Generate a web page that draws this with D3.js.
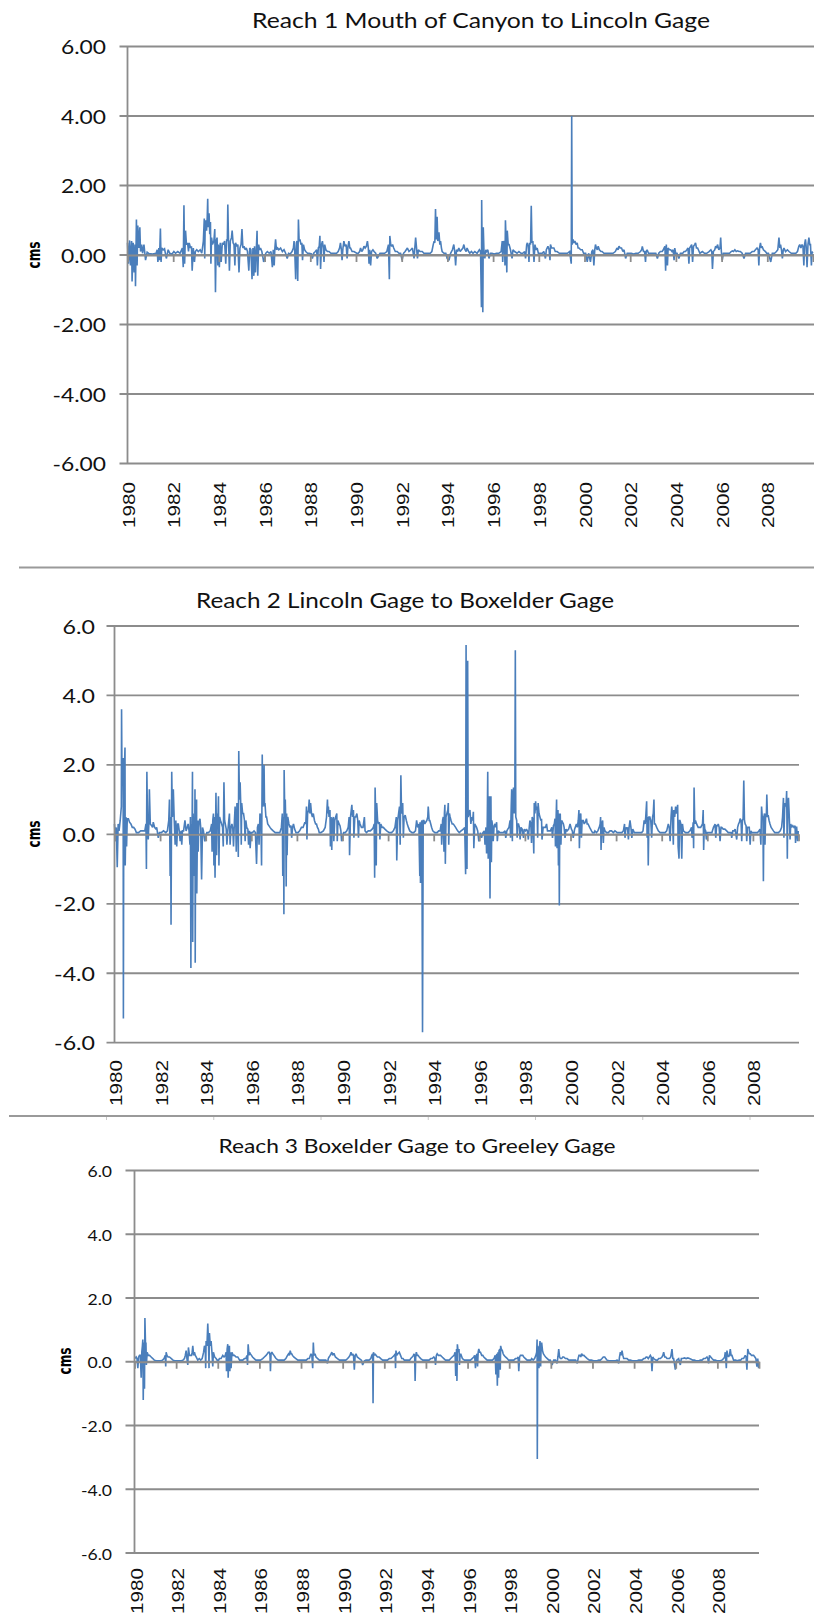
<!DOCTYPE html>
<html><head><meta charset="utf-8">
<script src="https://cdn.jsdelivr.net/npm/d3@7"></script>
<style>body{margin:0;background:#fff}svg{display:block}</style>
</head><body>
<svg id="c" width="814" height="1614"></svg>
<script>
// ---------------- DATA ----------------
const titles = ["Reach 1 Mouth of Canyon to Lincoln Gage", "Reach 2 Lincoln Gage to Boxelder Gage", "Reach 3 Boxelder Gage to Greeley Gage"];
const yAxisLabel = "cms";
const yTickValues = [-6, -4, -2, 0, 2, 4, 6];
const yTickDecimals = [2, 1, 1];
const xLabelYears = [1980,1982,1984,1986,1988,1990,1992,1994,1996,1998,2000,2002,2004,2006,2008];
const xAxisTickYears = [1980,1982,1984,1986,1988,1990,1992,1994,1996,1998,2000,2002,2004,2006,2008,2010];

// [decimal year, cms]
const reach1 = [
[1980.00,.35],[1980.04,-.25],[1980.09,.42],[1980.13,-.3],[1980.18,.4],[1980.2,-.76],[1980.25,.35],[1980.29,-.5],[1980.33,.3],[1980.35,-.9],[1980.39,1.02],[1980.42,-.3],[1980.45,.85],[1980.5,.2],[1980.54,.8],[1980.57,.1],[1980.62,.3],[1980.66,.05],[1980.72,.3],[1980.79,-.15],[1980.86,.08],[1980.94,.04],
[1981.1,.03],[1981.25,.05],[1981.3,.15],[1981.33,-.2],[1981.37,.2],[1981.4,-.15],[1981.44,.76],[1981.47,-.2],[1981.5,.2],[1981.56,.15],[1981.62,.18],[1981.7,-.1],[1981.78,.15],[1981.85,.05],[1981.95,.03],
[1982.03,.1],[1982.1,.05],[1982.2,.1],[1982.3,.05],[1982.4,.2],[1982.44,-.35],[1982.47,1.43],[1982.5,-.25],[1982.54,.7],[1982.58,.3],[1982.63,.35],[1982.67,.1],[1982.7,.35],[1982.76,.2],[1982.8,.25],[1982.83,-.45],[1982.88,.2],[1982.93,-.2],[1982.97,.1],
[1983.03,.15],[1983.1,.1],[1983.18,.15],[1983.25,.05],[1983.32,.4],[1983.36,1.05],[1983.38,-.1],[1983.4,.9],[1983.43,1.0],[1983.46,.7],[1983.49,1.1],[1983.51,1.62],[1983.53,.8],[1983.55,1.0],[1983.57,1.2],[1983.6,.6],[1983.63,.95],[1983.65,-.25],[1983.68,.5],[1983.72,.3],[1983.78,.4],[1983.82,.75],[1983.85,-1.07],[1983.88,.4],[1983.92,.5],[1983.95,-.3],[1983.98,.3],
[1984.02,-.35],[1984.06,.35],[1984.1,-.2],[1984.15,.35],[1984.2,.3],[1984.25,.4],[1984.3,-.25],[1984.34,.45],[1984.37,.4],[1984.39,1.45],[1984.42,.45],[1984.46,-.45],[1984.5,.4],[1984.55,.5],[1984.58,.7],[1984.62,.35],[1984.66,.3],[1984.7,-.3],[1984.73,.35],[1984.78,.25],[1984.83,.3],[1984.88,-.5],[1984.92,.2],[1984.97,.3],
[1985.01,.75],[1985.05,.2],[1985.1,.25],[1985.15,.15],[1985.2,.2],[1985.25,.1],[1985.31,-.45],[1985.35,.2],[1985.4,.15],[1985.45,-.7],[1985.49,.2],[1985.53,-.6],[1985.56,.25],[1985.6,-.5],[1985.64,.2],[1985.67,.7],[1985.7,-.6],[1985.74,.3],[1985.78,.15],[1985.82,.2],[1985.88,.1],[1985.96,-.2],
[1986.05,.05],[1986.12,.1],[1986.2,.05],[1986.28,.1],[1986.34,-.35],[1986.38,.15],[1986.42,-.3],[1986.45,.2],[1986.48,.45],[1986.52,.15],[1986.57,.2],[1986.62,.15],[1986.7,.2],[1986.78,.1],[1986.85,.15],[1986.92,.05],[1986.99,-.1],
[1987.05,.05],[1987.12,.03],[1987.2,.1],[1987.26,.2],[1987.29,.4],[1987.32,.1],[1987.36,-.7],[1987.39,.35],[1987.42,.4],[1987.45,-.75],[1987.48,1.02],[1987.51,.4],[1987.55,.45],[1987.59,.3],[1987.63,.35],[1987.66,-.15],[1987.7,.3],[1987.75,.15],[1987.8,.1],[1987.88,.05],[1987.95,.05],
[1988.05,.03],[1988.09,-.1],[1988.15,.05],[1988.22,.1],[1988.28,.15],[1988.31,-.3],[1988.35,.2],[1988.39,.25],[1988.42,.55],[1988.45,-.4],[1988.49,.3],[1988.53,.4],[1988.57,.2],[1988.6,-.2],[1988.63,.3],[1988.68,.15],[1988.75,.1],[1988.82,.1],[1988.9,.05],
[1989.05,.05],[1989.15,.05],[1989.22,.1],[1989.28,.2],[1989.32,.35],[1989.36,.15],[1989.39,-.15],[1989.43,.2],[1989.47,.4],[1989.52,.25],[1989.57,.3],[1989.61,-.1],[1989.65,.25],[1989.69,.4],[1989.73,.2],[1989.76,.2],[1989.83,.1],[1989.91,.1],
[1990.03,.05],[1990.1,.05],[1990.16,.1],[1990.2,.2],[1990.25,.1],[1990.3,.15],[1990.35,.25],[1990.4,.2],[1990.45,.25],[1990.5,.4],[1990.54,.2],[1990.57,-.25],[1990.6,.15],[1990.64,-.3],[1990.68,.1],[1990.74,.15],[1990.79,.1],[1990.86,.05],[1990.93,-.1],
[1991.05,.05],[1991.15,.05],[1991.25,.05],[1991.35,.1],[1991.42,.3],[1991.46,-.7],[1991.48,.55],[1991.52,.3],[1991.56,.25],[1991.6,.3],[1991.65,.2],[1991.72,.1],[1991.8,.1],[1991.88,.05],[1991.95,.05],
[1992.02,-.15],[1992.08,.05],[1992.15,.1],[1992.25,.2],[1992.32,.1],[1992.4,.15],[1992.47,.2],[1992.54,-.1],[1992.58,.25],[1992.61,.5],[1992.65,.2],[1992.69,-.1],[1992.73,.15],[1992.8,.1],[1992.9,.1],[1992.97,.05],
[1993.05,.05],[1993.15,.05],[1993.25,.05],[1993.32,.1],[1993.38,.3],[1993.42,.4],[1993.45,.35],[1993.48,1.32],[1993.51,.45],[1993.55,1.1],[1993.58,.4],[1993.63,.65],[1993.67,.3],[1993.7,.4],[1993.74,.2],[1993.77,.1],[1993.85,.05],[1993.93,.05],[1993.99,-.1],
[1994.07,-.15],[1994.14,.05],[1994.22,.15],[1994.28,.3],[1994.32,.1],[1994.36,-.3],[1994.4,.15],[1994.45,.1],[1994.5,.2],[1994.56,.1],[1994.62,.15],[1994.68,.2],[1994.72,.3],[1994.77,.15],[1994.82,.1],[1994.86,.2],[1994.93,.1],[1994.98,.05],
[1995.05,.1],[1995.12,.05],[1995.2,.1],[1995.3,.05],[1995.4,.15],[1995.45,.1],[1995.49,-1.5],[1995.5,1.58],[1995.52,.1],[1995.55,-1.65],[1995.57,.8],[1995.6,.1],[1995.64,-.1],[1995.68,.15],[1995.72,.1],[1995.77,.15],[1995.82,-.1],[1995.88,.05],[1995.95,.05],
[1996.05,.03],[1996.15,.05],[1996.25,.05],[1996.35,.1],[1996.4,.4],[1996.42,-.2],[1996.46,.4],[1996.5,.35],[1996.52,-.3],[1996.54,1.0],[1996.57,.4],[1996.6,-.5],[1996.62,.7],[1996.66,.3],[1996.7,.3],[1996.76,.15],[1996.83,-.1],[1996.87,.15],[1996.94,.1],
[1997.05,.05],[1997.13,.1],[1997.22,.05],[1997.3,.05],[1997.38,.1],[1997.42,-.1],[1997.47,.3],[1997.5,.35],[1997.54,.25],[1997.57,-.2],[1997.6,.35],[1997.64,.3],[1997.67,1.42],[1997.7,.35],[1997.74,.4],[1997.79,-.2],[1997.83,.3],[1997.88,.15],[1997.93,.2],[1997.98,.05],
[1998.05,.05],[1998.15,.05],[1998.22,.1],[1998.29,-.1],[1998.33,.15],[1998.4,.25],[1998.45,.15],[1998.49,-.15],[1998.51,.3],[1998.56,.2],[1998.62,.2],[1998.66,.2],[1998.72,.1],[1998.8,.1],[1998.9,.05],
[1999.05,.05],[1999.15,.05],[1999.25,.05],[1999.35,.1],[1999.42,-.25],[1999.44,4.0],[1999.46,.3],[1999.5,.45],[1999.54,.35],[1999.58,.4],[1999.63,.3],[1999.68,.35],[1999.72,.2],[1999.76,.2],[1999.83,.15],[1999.9,.15],[1999.96,.05],
[2000.05,.05],[2000.12,-.2],[2000.18,.05],[2000.26,-.2],[2000.32,.1],[2000.37,.15],[2000.41,-.3],[2000.45,.15],[2000.48,.3],[2000.52,.2],[2000.56,.15],[2000.6,.25],[2000.65,.15],[2000.72,.1],[2000.77,.1],[2000.85,.05],[2000.93,.05],
[2001.05,.05],[2001.15,.05],[2001.25,.05],[2001.35,.1],[2001.42,.2],[2001.47,.15],[2001.51,.25],[2001.56,.2],[2001.62,.2],[2001.68,.1],[2001.73,.15],[2001.8,-.1],[2001.87,.05],[2001.95,.05],
[2002.05,.05],[2002.15,.03],[2002.25,.05],[2002.35,.05],[2002.45,.1],[2002.5,.15],[2002.53,.25],[2002.58,.1],[2002.63,.1],[2002.67,-.2],[2002.7,.1],[2002.74,.15],[2002.8,.05],[2002.9,.05],
[2003.05,.05],[2003.12,.05],[2003.19,-.1],[2003.25,.05],[2003.32,.1],[2003.4,.1],[2003.45,.15],[2003.48,.2],[2003.52,.25],[2003.55,-.45],[2003.58,.3],[2003.63,-.3],[2003.66,.2],[2003.72,.15],[2003.77,.15],[2003.83,.1],[2003.88,.15],[2003.92,-.15],[2003.95,.2],[2003.99,.05],
[2004.05,.05],[2004.13,-.1],[2004.2,.05],[2004.3,.05],[2004.36,.1],[2004.42,.1],[2004.48,.15],[2004.53,.2],[2004.57,-.25],[2004.6,.2],[2004.65,.25],[2004.69,.3],[2004.73,-.2],[2004.77,.25],[2004.82,.3],[2004.86,.35],[2004.9,.2],[2004.95,.2],
[2005.05,.05],[2005.16,.1],[2005.25,.05],[2005.35,.05],[2005.45,.1],[2005.53,.15],[2005.57,.1],[2005.6,-.4],[2005.64,.1],[2005.7,.15],[2005.74,.25],[2005.79,.2],[2005.82,.3],[2005.88,.15],[2005.93,.2],[2005.96,.5],[2005.99,.1],
[2006.03,-.15],[2006.08,.05],[2006.15,.05],[2006.25,.05],[2006.35,.05],[2006.42,.1],[2006.47,.12],[2006.52,.1],[2006.58,.15],[2006.64,.1],[2006.7,.12],[2006.76,.1],[2006.82,.1],[2006.9,.05],[2006.98,-.1],
[2007.05,.05],[2007.15,.05],[2007.25,.05],[2007.34,.1],[2007.42,.1],[2007.48,.15],[2007.55,.2],[2007.6,.15],[2007.63,-.3],[2007.66,.2],[2007.7,.35],[2007.74,.2],[2007.77,.25],[2007.83,.15],[2007.92,.1],[2007.97,.05],
[2008.05,.05],[2008.15,-.2],[2008.22,.05],[2008.32,.05],[2008.4,.1],[2008.46,.15],[2008.51,.5],[2008.55,.2],[2008.58,.3],[2008.62,.15],[2008.66,-.1],[2008.7,.15],[2008.73,.2],[2008.8,.1],[2008.88,.15],[2008.95,.1],
[2009.05,.05],[2009.15,.05],[2009.25,.05],[2009.32,.1],[2009.38,.25],[2009.42,.3],[2009.47,.2],[2009.52,.3],[2009.56,.25],[2009.6,-.3],[2009.63,.3],[2009.67,.45],[2009.7,.25],[2009.74,-.35],[2009.78,.3],[2009.82,.5],[2009.86,.3],[2009.89,.3],[2009.93,-.3],[2009.96,.1],[2009.99,.05]
];

const reach2 = [
[1980.0,.3],[1980.04,-.2],[1980.08,.2],[1980.12,-.95],[1980.16,.3],[1980.2,.1],[1980.25,.4],[1980.3,.8],[1980.31,3.6],[1980.33,1.5],[1980.36,2.2],[1980.38,1.0],[1980.39,-5.3],[1980.41,2.2],[1980.43,1.8],[1980.46,2.5],[1980.47,-.9],[1980.5,.5],[1980.53,-.35],[1980.56,.45],[1980.61,.45],[1980.66,.35],[1980.72,.3],[1980.78,.2],[1980.84,.2],[1980.9,.15],[1980.96,.05],
[1981.05,.05],[1981.15,.1],[1981.25,.1],[1981.33,.1],[1981.38,.3],[1981.4,-1.0],[1981.42,1.8],[1981.45,.3],[1981.48,-.15],[1981.51,.35],[1981.53,1.3],[1981.57,.3],[1981.63,.25],[1981.67,.2],[1981.7,.35],[1981.76,.2],[1981.82,.15],[1981.85,.2],[1981.92,-.1],[1981.97,.05],
[1982.05,.05],[1982.15,.1],[1982.25,.05],[1982.32,.1],[1982.38,.4],[1982.41,1.0],[1982.44,-1.2],[1982.46,.5],[1982.48,-2.6],[1982.51,1.8],[1982.54,.5],[1982.58,1.3],[1982.62,.4],[1982.66,-.3],[1982.69,.4],[1982.73,-.35],[1982.77,.3],[1982.8,.3],[1982.84,.1],[1982.88,-.2],[1982.92,.1],[1982.95,-.3],[1982.98,.1],
[1983.03,.1],[1983.09,.4],[1983.14,.1],[1983.19,.2],[1983.23,.3],[1983.27,.1],[1983.31,-.3],[1983.33,.5],[1983.35,-3.85],[1983.37,.3],[1983.39,-1.0],[1983.42,1.8],[1983.43,-3.1],[1983.45,.6],[1983.47,-1.2],[1983.49,.5],[1983.51,-1.1],[1983.53,1.3],[1983.54,-3.7],[1983.56,.7],[1983.58,-1.0],[1983.6,1.0],[1983.61,-1.7],[1983.64,.4],[1983.67,-.5],[1983.7,.35],[1983.75,.45],[1983.78,.2],[1983.82,-1.3],[1983.86,.2],[1983.9,.1],[1983.96,-.2],
[1984.05,.05],[1984.12,.05],[1984.2,.1],[1984.26,.3],[1984.28,-.5],[1984.31,.4],[1984.34,.6],[1984.36,-.9],[1984.38,.5],[1984.41,-1.25],[1984.45,1.2],[1984.48,-.6],[1984.51,.6],[1984.54,.5],[1984.56,1.1],[1984.58,-.9],[1984.61,.5],[1984.65,.4],[1984.7,.3],[1984.74,.2],[1984.77,-.35],[1984.8,1.5],[1984.83,.4],[1984.86,.3],[1984.9,.15],[1984.93,-.3],[1984.97,.1],
[1985.04,.6],[1985.07,-.3],[1985.11,.2],[1985.15,.3],[1985.19,.15],[1985.22,-.35],[1985.26,.4],[1985.29,.8],[1985.32,.3],[1985.34,-.5],[1985.37,.9],[1985.4,.7],[1985.43,-.65],[1985.45,2.4],[1985.48,1.0],[1985.51,1.5],[1985.54,.8],[1985.56,-.3],[1985.58,.9],[1985.62,.6],[1985.66,.6],[1985.7,.4],[1985.73,-.2],[1985.76,.4],[1985.8,.2],[1985.85,.15],[1985.88,-.3],[1985.92,.1],[1985.95,-.4],[1985.99,.05],
[1986.05,.05],[1986.12,.1],[1986.18,.05],[1986.23,-.85],[1986.27,.2],[1986.31,.3],[1986.34,-.3],[1986.38,.6],[1986.42,.5],[1986.45,-.9],[1986.48,2.3],[1986.5,.8],[1986.53,1.0],[1986.56,2.0],[1986.58,.8],[1986.6,.9],[1986.64,.5],[1986.67,.5],[1986.72,.3],[1986.77,.25],[1986.82,.2],[1986.88,.15],[1986.96,.1],
[1987.05,.05],[1987.15,.05],[1987.25,.05],[1987.32,.2],[1987.36,.6],[1987.38,-1.2],[1987.41,.5],[1987.43,-2.3],[1987.44,1.85],[1987.47,.5],[1987.49,1.0],[1987.51,.4],[1987.53,-1.5],[1987.55,.6],[1987.57,-.6],[1987.6,.5],[1987.65,.3],[1987.7,.2],[1987.74,.25],[1987.77,-.1],[1987.81,.2],[1987.85,.3],[1987.9,.15],[1987.96,.05],
[1988.05,.05],[1988.12,.1],[1988.2,.2],[1988.27,.2],[1988.35,.35],[1988.39,.3],[1988.42,.8],[1988.44,-.15],[1988.47,.6],[1988.51,.7],[1988.54,1.0],[1988.57,.6],[1988.6,.9],[1988.64,.6],[1988.68,.5],[1988.72,.6],[1988.77,.4],[1988.82,.3],[1988.86,.3],[1988.9,.2],[1988.94,.15],[1988.98,.05],
[1989.05,.05],[1989.16,.1],[1989.24,.2],[1989.3,.5],[1989.34,1.0],[1989.36,.6],[1989.38,.8],[1989.41,.5],[1989.45,.7],[1989.47,-.35],[1989.5,.5],[1989.53,-.45],[1989.55,.4],[1989.6,.5],[1989.62,-.2],[1989.66,.4],[1989.7,.5],[1989.75,.6],[1989.77,-.2],[1989.8,.4],[1989.85,.3],[1989.89,.25],[1989.93,.1],[1989.96,-.2],
[1990.05,.05],[1990.12,.05],[1990.19,.1],[1990.25,.2],[1990.29,.5],[1990.31,-.6],[1990.35,.5],[1990.41,.85],[1990.44,.5],[1990.48,.7],[1990.5,-.1],[1990.54,.5],[1990.58,.5],[1990.63,.6],[1990.67,.4],[1990.7,-.1],[1990.73,.4],[1990.77,.3],[1990.83,.2],[1990.9,.2],[1990.96,.5],[1990.99,.1],
[1991.05,.05],[1991.13,.1],[1991.22,.1],[1991.3,.15],[1991.35,.2],[1991.39,.3],[1991.41,-1.25],[1991.43,1.35],[1991.46,.4],[1991.48,-.9],[1991.5,.9],[1991.54,.4],[1991.58,.3],[1991.62,.35],[1991.64,-.15],[1991.68,.3],[1991.74,.2],[1991.79,.2],[1991.86,.15],[1991.94,.1],
[1992.05,.05],[1992.15,.05],[1992.23,.1],[1992.3,.2],[1992.36,.5],[1992.38,-.75],[1992.42,.4],[1992.46,.6],[1992.5,.8],[1992.53,-.3],[1992.56,1.7],[1992.59,.6],[1992.62,.7],[1992.64,.9],[1992.67,-.1],[1992.7,.5],[1992.75,.55],[1992.8,.4],[1992.84,.3],[1992.89,.2],[1992.95,.1],
[1993.05,.05],[1993.12,.05],[1993.2,.1],[1993.25,.4],[1993.3,.2],[1993.35,.3],[1993.39,-1.2],[1993.4,.35],[1993.42,-1.4],[1993.45,.3],[1993.48,.4],[1993.51,-5.7],[1993.54,.4],[1993.57,.4],[1993.61,.3],[1993.65,.35],[1993.7,.4],[1993.74,.5],[1993.76,.8],[1993.8,.4],[1993.83,.4],[1993.87,.3],[1993.91,.2],[1993.96,.1],
[1994.05,.05],[1994.15,.05],[1994.22,.1],[1994.28,.1],[1994.33,.3],[1994.35,-.3],[1994.39,.4],[1994.42,.5],[1994.45,-.5],[1994.47,.6],[1994.49,.85],[1994.51,-.85],[1994.54,.5],[1994.58,.6],[1994.62,.7],[1994.64,.9],[1994.66,-.3],[1994.69,.6],[1994.72,.5],[1994.76,.4],[1994.81,.3],[1994.86,.3],[1994.91,.25],[1994.96,.2],
[1995.05,.1],[1995.12,.05],[1995.2,.1],[1995.3,.15],[1995.36,.2],[1995.4,-1.15],[1995.42,5.45],[1995.44,.5],[1995.46,-1.0],[1995.47,.8],[1995.49,5.0],[1995.51,.5],[1995.55,.6],[1995.59,.7],[1995.63,.3],[1995.67,.5],[1995.71,.4],[1995.74,.65],[1995.76,-.4],[1995.8,.3],[1995.84,.25],[1995.88,.2],[1995.93,.1],[1995.98,-.2],
[1996.05,.05],[1996.1,-.1],[1996.16,.05],[1996.22,.1],[1996.25,-.3],[1996.29,.2],[1996.32,-.55],[1996.35,.4],[1996.37,1.8],[1996.39,-.7],[1996.42,.5],[1996.44,1.1],[1996.47,-1.85],[1996.49,.5],[1996.51,1.1],[1996.53,-.8],[1996.55,.4],[1996.57,.3],[1996.61,-.2],[1996.65,.25],[1996.69,.3],[1996.72,.2],[1996.76,.35],[1996.79,-.2],[1996.83,.1],[1996.9,.05],
[1997.05,.05],[1997.13,.1],[1997.16,-.1],[1997.21,.1],[1997.25,.15],[1997.3,.2],[1997.35,.4],[1997.37,-.1],[1997.4,.8],[1997.42,1.3],[1997.45,-.2],[1997.47,.9],[1997.5,1.35],[1997.53,.6],[1997.56,1.3],[1997.58,5.3],[1997.6,.5],[1997.64,.4],[1997.66,-.1],[1997.69,.3],[1997.72,.3],[1997.76,.2],[1997.79,-.15],[1997.83,.2],[1997.88,.15],[1997.94,-.1],[1997.97,.15],
[1998.03,.1],[1998.07,.15],[1998.11,.1],[1998.15,-.15],[1998.19,.2],[1998.22,.4],[1998.26,.3],[1998.29,-.25],[1998.32,.5],[1998.35,.4],[1998.39,-.55],[1998.41,.9],[1998.44,.6],[1998.47,.95],[1998.5,.7],[1998.53,.8],[1998.56,-.1],[1998.58,.9],[1998.62,.6],[1998.66,.5],[1998.7,.4],[1998.73,.45],[1998.75,-.15],[1998.8,.2],[1998.85,.2],[1998.9,.2],[1998.95,.3],[1998.99,.1],
[1999.06,.1],[1999.12,.1],[1999.18,.2],[1999.21,-.1],[1999.25,.25],[1999.29,.3],[1999.32,.45],[1999.34,-.35],[1999.37,.5],[1999.39,1.0],[1999.41,-.4],[1999.43,.6],[1999.45,.7],[1999.47,-.9],[1999.49,.6],[1999.51,-2.05],[1999.53,.5],[1999.55,.6],[1999.58,-.3],[1999.61,.4],[1999.65,.35],[1999.69,.3],[1999.72,.2],[1999.76,-.1],[1999.8,.15],[1999.85,.1],[1999.92,.15],[1999.98,.3],
[2000.04,.15],[2000.08,.1],[2000.12,-.1],[2000.18,.15],[2000.26,.3],[2000.3,.2],[2000.34,.4],[2000.37,.7],[2000.39,-.4],[2000.42,.5],[2000.45,.6],[2000.48,-.1],[2000.51,.4],[2000.56,.4],[2000.6,.3],[2000.65,.35],[2000.7,.45],[2000.73,.3],[2000.77,.3],[2000.84,.2],[2000.92,.1],[2000.97,.05],
[2001.04,.05],[2001.07,.1],[2001.14,.05],[2001.2,.1],[2001.26,.2],[2001.3,.3],[2001.32,.5],[2001.34,-.45],[2001.37,.3],[2001.41,.4],[2001.44,-.25],[2001.47,.2],[2001.51,.1],[2001.58,.05],[2001.66,.05],[2001.73,.1],[2001.8,.1],[2001.88,.05],[2001.95,.1],
[2002.05,.05],[2002.15,.05],[2002.25,.05],[2002.32,.1],[2002.37,.3],[2002.39,-.1],[2002.43,.2],[2002.47,.15],[2002.5,.2],[2002.54,-.15],[2002.57,.2],[2002.61,.4],[2002.65,.2],[2002.69,-.1],[2002.73,.15],[2002.8,.05],[2002.9,.05],
[2003.05,.05],[2003.12,.05],[2003.18,.1],[2003.23,.4],[2003.27,.3],[2003.3,.5],[2003.34,.95],[2003.36,-.1],[2003.39,.5],[2003.41,-.9],[2003.44,.5],[2003.48,.5],[2003.52,.4],[2003.56,-.1],[2003.6,.5],[2003.63,.6],[2003.66,1.0],[2003.68,.3],[2003.72,.3],[2003.78,.2],[2003.85,.1],[2003.93,.05],
[2004.05,.05],[2004.15,.05],[2004.22,.1],[2004.29,.3],[2004.33,.2],[2004.37,-.2],[2004.41,.5],[2004.44,.8],[2004.47,.6],[2004.51,-.3],[2004.53,.7],[2004.57,.5],[2004.61,.8],[2004.64,.6],[2004.67,.7],[2004.7,.85],[2004.72,-.35],[2004.76,-.7],[2004.78,.4],[2004.8,.4],[2004.84,.3],[2004.88,-.7],[2004.91,.3],[2004.95,.1],
[2005.05,.05],[2005.16,.05],[2005.24,.1],[2005.31,.2],[2005.33,-.1],[2005.38,.35],[2005.4,-.4],[2005.42,1.35],[2005.45,.3],[2005.48,.4],[2005.53,.3],[2005.6,.2],[2005.66,.2],[2005.71,.2],[2005.75,.25],[2005.79,.3],[2005.82,.7],[2005.84,-.45],[2005.87,.3],[2005.89,.15],[2005.93,.1],[2005.96,-.15],[2005.99,.05],
[2006.05,.05],[2006.12,.05],[2006.2,.05],[2006.27,.2],[2006.31,.25],[2006.34,.3],[2006.37,-.1],[2006.41,.25],[2006.45,.25],[2006.48,.3],[2006.52,.2],[2006.56,-.2],[2006.6,.2],[2006.63,.2],[2006.7,.15],[2006.77,.15],[2006.85,.1],[2006.92,.05],
[2007.05,.05],[2007.07,-.1],[2007.12,.1],[2007.18,.1],[2007.22,.15],[2007.29,-.15],[2007.33,.2],[2007.37,.3],[2007.41,.35],[2007.44,.45],[2007.48,.4],[2007.51,-.2],[2007.54,.4],[2007.57,.45],[2007.6,1.55],[2007.63,.4],[2007.66,.3],[2007.7,.25],[2007.73,-.2],[2007.76,.2],[2007.8,.2],[2007.84,.2],[2007.88,-.3],[2007.91,.1],[2007.96,.05],
[2008.05,.05],[2008.12,.05],[2008.2,.05],[2008.27,.1],[2008.31,.15],[2008.35,-.3],[2008.38,.8],[2008.41,.5],[2008.44,.5],[2008.46,-1.35],[2008.48,.5],[2008.51,.6],[2008.53,-.3],[2008.56,.6],[2008.59,.5],[2008.61,1.15],[2008.64,.5],[2008.67,.55],[2008.71,.4],[2008.75,.3],[2008.8,.2],[2008.85,.15],[2008.9,.1],[2008.96,.05],
[2009.05,.05],[2009.12,.05],[2009.2,.1],[2009.26,.2],[2009.3,.5],[2009.34,1.05],[2009.36,-.1],[2009.39,.7],[2009.41,.9],[2009.44,.8],[2009.46,.9],[2009.48,1.25],[2009.51,-.7],[2009.53,.8],[2009.56,1.05],[2009.59,.6],[2009.63,-.15],[2009.66,.3],[2009.7,.2],[2009.75,.25],[2009.8,.2],[2009.85,.25],[2009.87,-.25],[2009.9,.2],[2009.92,.2],[2009.96,-.2],[2009.99,.1]
];

const reach3 = [
[1980.02,.1],[1980.08,.15],[1980.12,.1],[1980.16,-.2],[1980.2,.15],[1980.24,.2],[1980.28,.2],[1980.32,-.5],[1980.35,.3],[1980.38,.5],[1980.4,.7],[1980.42,-1.2],[1980.45,.6],[1980.48,-.85],[1980.5,1.37],[1980.53,.5],[1980.55,.6],[1980.57,-.1],[1980.61,.3],[1980.66,.2],[1980.72,.2],[1980.8,.15],[1980.88,.1],[1980.95,.05],
[1981.05,.03],[1981.15,.03],[1981.25,.03],[1981.35,.05],[1981.42,.1],[1981.48,.2],[1981.5,-.15],[1981.52,.3],[1981.56,.2],[1981.61,.15],[1981.68,.15],[1981.77,.1],[1981.85,.05],[1981.93,.03],
[1982.05,.03],[1982.15,.03],[1982.25,.03],[1982.33,.05],[1982.4,.1],[1982.44,.2],[1982.48,.35],[1982.52,.1],[1982.56,-.1],[1982.59,.45],[1982.64,.2],[1982.69,.2],[1982.74,.2],[1982.77,.3],[1982.8,.5],[1982.84,.2],[1982.88,.3],[1982.92,.2],[1982.96,.15],
[1983.04,.05],[1983.11,.1],[1983.18,.05],[1983.25,.1],[1983.32,.3],[1983.36,.5],[1983.4,.4],[1983.42,-.2],[1983.44,.65],[1983.48,.5],[1983.52,1.2],[1983.55,.7],[1983.58,-.2],[1983.6,.9],[1983.64,.5],[1983.68,.65],[1983.72,.3],[1983.76,-.15],[1983.79,.3],[1983.85,.15],[1983.92,.1],[1983.97,.05],
[1984.04,.05],[1984.08,.1],[1984.16,.1],[1984.24,.2],[1984.3,.15],[1984.36,.2],[1984.4,.3],[1984.42,-.3],[1984.45,.4],[1984.48,.55],[1984.5,-.5],[1984.53,.4],[1984.56,.5],[1984.58,-.3],[1984.61,.3],[1984.64,-.2],[1984.68,.3],[1984.74,.2],[1984.8,.2],[1984.88,.15],[1984.96,.15],
[1985.05,.05],[1985.11,.05],[1985.2,.05],[1985.28,.1],[1985.35,.1],[1985.4,.2],[1985.43,-.1],[1985.46,.55],[1985.5,.2],[1985.53,.3],[1985.56,.25],[1985.62,.2],[1985.67,.15],[1985.75,.1],[1985.83,.05],[1985.92,.05],
[1986.05,.05],[1986.16,.1],[1986.24,.15],[1986.32,.2],[1986.38,.25],[1986.43,.3],[1986.48,.3],[1986.51,.2],[1986.53,-.3],[1986.56,.25],[1986.6,.3],[1986.64,.25],[1986.7,.2],[1986.75,.15],[1986.8,.1],[1986.9,.05],[1986.96,.05],
[1987.05,.05],[1987.12,.05],[1987.19,.05],[1987.27,.1],[1987.35,.2],[1987.4,.25],[1987.44,.2],[1987.48,.35],[1987.52,.25],[1987.55,.25],[1987.59,.2],[1987.65,.15],[1987.75,.1],[1987.85,.05],[1987.95,.05],
[1988.05,.05],[1988.16,.05],[1988.25,.05],[1988.33,.1],[1988.4,.1],[1988.45,.2],[1988.48,.25],[1988.52,.2],[1988.56,-.2],[1988.59,.6],[1988.62,.2],[1988.67,.25],[1988.72,.15],[1988.8,.1],[1988.88,.05],[1988.95,.05],
[1989.05,.05],[1989.12,.05],[1989.19,.05],[1989.27,-.05],[1989.31,.1],[1989.35,.15],[1989.4,.2],[1989.44,.25],[1989.48,.3],[1989.52,.2],[1989.56,.25],[1989.59,.25],[1989.65,.15],[1989.75,.1],[1989.85,.05],[1989.94,.05],
[1990.05,.05],[1990.15,.05],[1990.24,.1],[1990.3,.15],[1990.35,.2],[1990.4,.3],[1990.44,.2],[1990.48,.25],[1990.52,.2],[1990.56,-.25],[1990.6,.2],[1990.64,.25],[1990.7,.15],[1990.8,.1],[1990.9,.05],[1990.96,-.1],
[1991.05,.03],[1991.12,.05],[1991.19,.05],[1991.27,.05],[1991.35,.1],[1991.4,.2],[1991.44,.25],[1991.46,-1.3],[1991.48,.3],[1991.52,.2],[1991.56,.25],[1991.6,.2],[1991.67,.15],[1991.75,.15],[1991.83,.1],[1991.92,.05],
[1992.05,.05],[1992.15,.05],[1992.24,.1],[1992.32,.1],[1992.4,.15],[1992.48,.2],[1992.52,.25],[1992.54,-.2],[1992.56,.35],[1992.6,.2],[1992.65,.25],[1992.72,.3],[1992.78,.2],[1992.84,.1],[1992.9,.1],[1992.96,.05],
[1993.05,.05],[1993.15,.05],[1993.22,.05],[1993.27,.1],[1993.34,.15],[1993.4,.2],[1993.43,.25],[1993.46,.15],[1993.48,-.6],[1993.51,.2],[1993.54,.3],[1993.58,.2],[1993.62,.2],[1993.68,.15],[1993.75,.1],[1993.85,.05],[1993.95,.05],
[1994.05,.05],[1994.15,.05],[1994.23,.1],[1994.3,.1],[1994.38,.15],[1994.43,.1],[1994.46,-.1],[1994.5,.2],[1994.54,.25],[1994.6,.2],[1994.66,.2],[1994.7,.2],[1994.78,.15],[1994.86,.1],[1994.94,.05],
[1995.05,.05],[1995.12,.05],[1995.19,.1],[1995.26,.15],[1995.35,.2],[1995.4,.3],[1995.43,-.45],[1995.47,.4],[1995.49,-.6],[1995.51,.55],[1995.55,.3],[1995.59,.4],[1995.61,-.1],[1995.64,.2],[1995.67,.25],[1995.75,.1],[1995.85,.05],[1995.95,.05],
[1996.05,.05],[1996.14,.05],[1996.22,.1],[1996.3,.15],[1996.34,.2],[1996.38,-.2],[1996.42,.2],[1996.46,.25],[1996.48,-.15],[1996.51,.3],[1996.54,.4],[1996.58,.3],[1996.62,.3],[1996.68,.2],[1996.73,.2],[1996.78,.15],[1996.86,.1],[1996.94,.05],
[1997.05,.05],[1997.12,.05],[1997.19,.05],[1997.27,.1],[1997.33,.2],[1997.36,-.4],[1997.4,.25],[1997.43,-.75],[1997.46,.3],[1997.49,-.5],[1997.51,.35],[1997.55,.4],[1997.57,-.25],[1997.59,.5],[1997.62,.4],[1997.67,.35],[1997.71,.25],[1997.75,.2],[1997.82,.15],[1997.91,.1],[1997.97,.05],
[1998.05,.05],[1998.14,.05],[1998.22,.05],[1998.3,.1],[1998.38,.1],[1998.43,.15],[1998.46,-.3],[1998.5,.15],[1998.54,.2],[1998.6,.2],[1998.65,.2],[1998.7,.15],[1998.78,.1],[1998.86,.05],[1998.94,.05],
[1999.04,.05],[1999.08,.1],[1999.15,.05],[1999.22,.1],[1999.28,.2],[1999.32,.3],[1999.34,.7],[1999.35,-3.05],[1999.37,.5],[1999.4,.35],[1999.43,-.2],[1999.45,.4],[1999.48,.65],[1999.51,-.15],[1999.53,.4],[1999.56,.6],[1999.6,.35],[1999.64,.25],[1999.69,.2],[1999.75,.15],[1999.83,.1],[1999.91,.05],[1999.97,.05],
[2000.06,-.1],[2000.14,.05],[2000.22,.05],[2000.3,-.05],[2000.34,.15],[2000.38,.4],[2000.42,.15],[2000.46,.1],[2000.52,.1],[2000.57,.15],[2000.62,.15],[2000.7,.1],[2000.78,.1],[2000.87,.05],[2000.95,.05],
[2001.06,.05],[2001.13,.05],[2001.19,.05],[2001.27,-.05],[2001.31,.1],[2001.35,.2],[2001.4,.2],[2001.44,.15],[2001.48,.25],[2001.53,.2],[2001.59,.2],[2001.66,.15],[2001.75,.1],[2001.85,.05],[2001.95,.05],
[2002.05,.03],[2002.15,.03],[2002.22,.03],[2002.3,.05],[2002.38,.05],[2002.46,.1],[2002.52,.15],[2002.59,.15],[2002.64,.1],[2002.7,.05],[2002.8,.03],[2002.9,.03],
[2003.05,.03],[2003.12,.03],[2003.18,.05],[2003.26,-.05],[2003.3,.15],[2003.34,.3],[2003.38,.2],[2003.42,.35],[2003.46,.2],[2003.5,.1],[2003.58,.1],[2003.66,.1],[2003.74,.05],[2003.82,.05],[2003.92,.03],
[2004.05,.03],[2004.15,.03],[2004.22,.05],[2004.3,.05],[2004.38,.05],[2004.46,.1],[2004.52,.1],[2004.58,.15],[2004.62,.15],[2004.68,.1],[2004.73,.15],[2004.78,.2],[2004.82,.15],[2004.86,-.3],[2004.9,.15],[2004.94,.1],
[2005.05,.05],[2005.12,.05],[2005.18,.1],[2005.26,.1],[2005.34,.15],[2005.38,.2],[2005.42,.3],[2005.47,.15],[2005.52,.15],[2005.58,.1],[2005.64,.1],[2005.7,.1],[2005.76,.15],[2005.82,.4],[2005.86,.1],[2005.9,.1],[2005.98,-.25],
[2006.05,.05],[2006.14,.1],[2006.22,-.1],[2006.27,.1],[2006.34,.1],[2006.42,.12],[2006.5,.1],[2006.58,.12],[2006.66,.1],[2006.74,.08],[2006.82,.05],[2006.9,.05],[2006.97,.03],
[2007.05,.03],[2007.12,.03],[2007.18,.05],[2007.26,.05],[2007.34,.1],[2007.42,.1],[2007.5,.15],[2007.54,.1],[2007.58,-.05],[2007.62,.2],[2007.68,.15],[2007.74,.1],[2007.82,.05],[2007.9,.05],[2007.97,.03],
[2008.05,.03],[2008.14,.03],[2008.22,.05],[2008.3,.1],[2008.35,.15],[2008.38,.3],[2008.43,-.2],[2008.46,.35],[2008.5,.2],[2008.54,.15],[2008.58,.2],[2008.62,.4],[2008.66,.2],[2008.7,.2],[2008.78,.05],[2008.88,.05],[2008.95,.03],
[2009.05,.05],[2009.12,.05],[2009.18,.1],[2009.26,.1],[2009.34,.2],[2009.38,.15],[2009.42,-.25],[2009.46,.4],[2009.5,.3],[2009.54,.25],[2009.58,.25],[2009.64,.2],[2009.69,.2],[2009.74,.2],[2009.8,.15],[2009.85,.1],[2009.9,-.15],[2009.94,.1],[2009.98,-.2]
];

// ---------------- LAYOUT / STYLE ----------------
const BLUE = "#4a7ebb", GRID = "#8c8c8c";
const panels = [
  {data: reach1, x0: 127.5, x1: 813, yTop: 46.5, yBot: 463.5, gridRight: 814, tick: 8,
   titleX: 481, titleY: 28, titleW: 458, titleSize: 21,
   labRight: 106, labSize: 19, labStretch: 1.2, cmsX: 33, cmsY: 255, xLabTop: 482, xLabDx: 1.5},
  {data: reach2, x0: 114.5, x1: 798.5, yTop: 626, yBot: 1042.7, gridRight: 799, tick: 8,
   titleX: 405, titleY: 608, titleW: 418, titleSize: 21,
   labRight: 95, labSize: 19, labStretch: 1.22, cmsX: 33, cmsY: 834, xLabTop: 1060, xLabDx: 2},
  {data: reach3, x0: 134.5, x1: 759, yTop: 1170.5, yBot: 1553, gridRight: 759, tick: 9,
   titleX: 417, titleY: 1153, titleW: 397, titleSize: 20,
   labRight: 112, labSize: 16, labStretch: 1.1, cmsX: 64, cmsY: 1361, xLabTop: 1568, xLabDx: 2.5}
];

const svg = d3.select("#c");

// separators between the stacked charts
const separators = [{y: 567.5, x0: 19}, {y: 1116, x0: 9}];
svg.selectAll("line.sep").data(separators).join("line")
  .attr("x1", d => d.x0).attr("x2", 814).attr("y1", d => d.y).attr("y2", d => d.y)
  .attr("stroke", "#9a9a9a").attr("stroke-width", 2);
// faint remnant ticks under the second separator
const edgeTickScale = d3.scaleLinear().domain([0, 6]).range([106.5, 750]);
svg.selectAll("line.et").data(d3.range(7)).join("line")
  .attr("x1", d => edgeTickScale(d)).attr("x2", d => edgeTickScale(d))
  .attr("y1", 1117).attr("y2", 1120).attr("stroke", "#c8c8c8").attr("stroke-width", 1);

panels.forEach((p, i) => {
  const g = svg.append("g");
  const x = d3.scaleLinear().domain([1980, 2010]).range([p.x0, p.x1]);
  const y = d3.scaleLinear().domain([-6, 6]).range([p.yBot, p.yTop]);

  // title
  g.append("text").attr("x", p.titleX).attr("y", p.titleY)
    .attr("text-anchor", "middle").attr("font-family", "Lato, 'Open Sans', sans-serif")
    .attr("font-size", p.titleSize).attr("fill", "#111")
    .attr("textLength", p.titleW).attr("lengthAdjust", "spacingAndGlyphs")
    .text(titles[i]);

  // gridlines (with outside tick stubs)
  g.selectAll("line.grid").data(yTickValues).join("line")
    .attr("x1", p.x0 - p.tick).attr("x2", p.gridRight)
    .attr("y1", d => y(d)).attr("y2", d => y(d))
    .attr("stroke", GRID).attr("stroke-width", 1.8);

  // data line
  const series = p.data.slice().sort((a, b) => a[0] - b[0]);
  const line = d3.line().x(d => x(d[0])).y(d => y(d[1]));
  g.append("path").datum(series).attr("d", line)
    .attr("fill", "none").attr("stroke", BLUE).attr("stroke-width", 1.6)
    .attr("stroke-linejoin", "miter").attr("stroke-miterlimit", 2);

  // vertical value axis line
  g.append("line").attr("x1", p.x0).attr("x2", p.x0).attr("y1", p.yTop).attr("y2", p.yBot)
    .attr("stroke", GRID).attr("stroke-width", 1.8);

  // category axis at zero with downward ticks
  const xAxis = d3.axisBottom(x).tickValues(xAxisTickYears).tickSize(7).tickSizeOuter(0).tickFormat("");
  const ax = g.append("g").attr("transform", `translate(0,${y(0)})`).call(xAxis);
  ax.select(".domain").attr("stroke", GRID).attr("stroke-width", 1.8);
  ax.selectAll(".tick line").attr("stroke", GRID).attr("stroke-width", 1.8);

  // y tick labels
  const labs = g.selectAll("text.yl").data(yTickValues).join("text")
    .attr("x", p.labRight).attr("y", d => y(d))
    .attr("text-anchor", "end").attr("dominant-baseline", "central")
    .attr("font-family", "Lato, 'Open Sans', sans-serif").attr("font-size", p.labSize).attr("fill", "#111")
    .text(d => d.toFixed(yTickDecimals[i]));
  labs.each(function() {
    const w = this.getComputedTextLength();
    d3.select(this).attr("textLength", w * p.labStretch).attr("lengthAdjust", "spacingAndGlyphs");
  });

  // y axis title
  g.append("text").attr("transform", `translate(${p.cmsX},${p.cmsY}) rotate(-90)`)
    .attr("text-anchor", "middle").attr("dominant-baseline", "central")
    .attr("font-family", "'DejaVu Sans', 'Liberation Sans', sans-serif").attr("font-weight", "bold")
    .attr("font-size", 18).attr("fill", "#000")
    .attr("textLength", 27).attr("lengthAdjust", "spacingAndGlyphs")
    .text(yAxisLabel);

  // x tick labels (rotated)
  g.selectAll("text.xl").data(xLabelYears).join("text")
    .attr("transform", d => `translate(${x(d) + p.xLabDx},${p.xLabTop}) rotate(-90)`)
    .attr("text-anchor", "end").attr("dominant-baseline", "central")
    .attr("font-family", "'Liberation Sans', Arial, sans-serif").attr("font-size", 16).attr("fill", "#111")
    .attr("textLength", 46).attr("lengthAdjust", "spacingAndGlyphs")
    .text(d => d);
});
</script>
</body></html>
